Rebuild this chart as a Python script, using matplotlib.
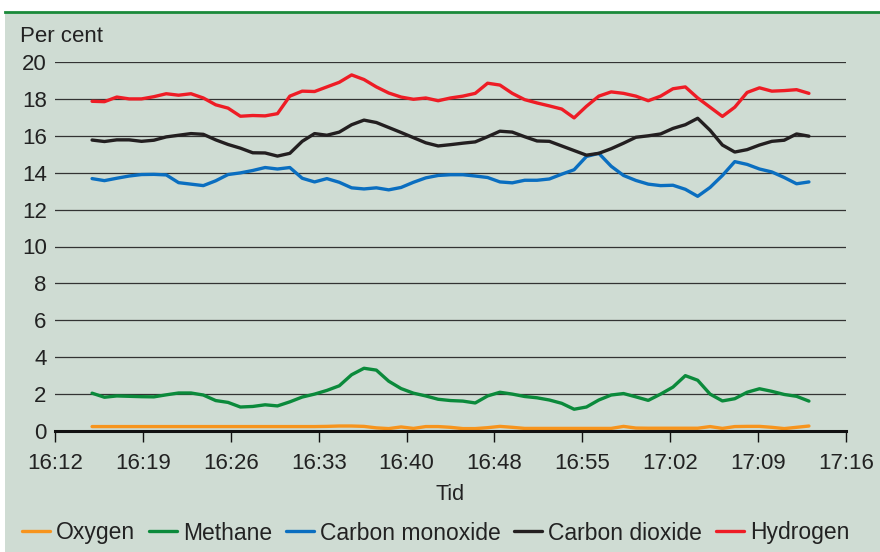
import numpy as np
import matplotlib.pyplot as plt
from matplotlib.patches import Rectangle
from matplotlib.lines import Line2D

plt.rcParams['font.family'] = ['Liberation Sans', 'DejaVu Sans']

# minutes after 16:12, one reading per minute (16:15 - 17:13)
minutes = np.arange(3, 62)

oxygen = [0.24, 0.24, 0.24, 0.24, 0.24, 0.24, 0.24, 0.24, 0.24, 0.24,
          0.24, 0.24, 0.24, 0.24, 0.24, 0.24, 0.24, 0.24, 0.24, 0.25,
          0.27, 0.27, 0.25, 0.17, 0.13, 0.22, 0.14, 0.24, 0.24, 0.20,
          0.13, 0.13, 0.18, 0.25, 0.20, 0.14, 0.14, 0.14, 0.14, 0.14,
          0.14, 0.14, 0.14, 0.25, 0.16, 0.15, 0.15, 0.15, 0.15, 0.15,
          0.24, 0.14, 0.24, 0.25, 0.25, 0.20, 0.13, 0.20, 0.27]

methane = [2.05, 1.83, 1.90, 1.88, 1.86, 1.85, 1.96, 2.06, 2.06, 1.95,
           1.65, 1.55, 1.30, 1.33, 1.42, 1.36, 1.58, 1.84, 2.00, 2.20,
           2.45, 3.05, 3.40, 3.30, 2.70, 2.30, 2.05, 1.90, 1.72, 1.65,
           1.62, 1.52, 1.90, 2.10, 2.00, 1.87, 1.80, 1.68, 1.50, 1.18,
           1.30, 1.68, 1.95, 2.03, 1.85, 1.66, 2.00, 2.38, 3.00, 2.75,
           2.00, 1.63, 1.75, 2.10, 2.29, 2.15, 1.98, 1.88, 1.62]

carbon_monoxide = [13.68, 13.57, 13.70, 13.82, 13.90, 13.91, 13.88, 13.46, 13.38, 13.30,
                   13.56, 13.90, 13.99, 14.12, 14.28, 14.20, 14.28, 13.70, 13.50, 13.68,
                   13.48, 13.18, 13.12, 13.18, 13.07, 13.20, 13.48, 13.72, 13.85, 13.89,
                   13.89, 13.82, 13.74, 13.50, 13.45, 13.59, 13.59, 13.66, 13.92, 14.16,
                   14.88, 15.05, 14.35, 13.85, 13.58, 13.38, 13.30, 13.32, 13.10, 12.72,
                   13.20, 13.85, 14.60, 14.45, 14.20, 14.04, 13.74, 13.40, 13.50]

carbon_dioxide = [15.77, 15.69, 15.78, 15.78, 15.70, 15.76, 15.94, 16.03, 16.12, 16.08,
                  15.78, 15.53, 15.33, 15.08, 15.07, 14.90, 15.05, 15.70, 16.12, 16.03,
                  16.20, 16.60, 16.85, 16.72, 16.45, 16.18, 15.90, 15.62, 15.45, 15.52,
                  15.60, 15.67, 15.95, 16.25, 16.20, 15.95, 15.72, 15.70, 15.45, 15.20,
                  14.95, 15.05, 15.30, 15.60, 15.92, 16.00, 16.10, 16.40, 16.60, 16.95,
                  16.30, 15.50, 15.12, 15.25, 15.50, 15.70, 15.76, 16.10, 15.98]

hydrogen = [17.87, 17.85, 18.10, 18.00, 18.00, 18.12, 18.28, 18.20, 18.28, 18.05,
            17.68, 17.50, 17.06, 17.10, 17.08, 17.20, 18.15, 18.42, 18.40, 18.65,
            18.90, 19.30, 19.05, 18.65, 18.32, 18.10, 17.98, 18.05, 17.90, 18.05,
            18.15, 18.30, 18.85, 18.75, 18.30, 17.96, 17.78, 17.62, 17.45, 16.97,
            17.60, 18.15, 18.38, 18.30, 18.15, 17.90, 18.15, 18.55, 18.65, 18.05,
            17.55, 17.05, 17.55, 18.35, 18.60, 18.42, 18.45, 18.50, 18.30]

tick_labels = ['16:12', '16:19', '16:26', '16:33', '16:40',
               '16:48', '16:55', '17:02', '17:09', '17:16']

series = [('Oxygen', oxygen, '#f7941d'),
          ('Methane', methane, '#0b8a3b'),
          ('Carbon monoxide', carbon_monoxide, '#0a6ec0'),
          ('Carbon dioxide', carbon_dioxide, '#231f20'),
          ('Hydrogen', hydrogen, '#ee1c25')]

bg = '#cfdcd3'
txt = '#222222'

fig = plt.figure(figsize=(8.8, 5.52), dpi=100, facecolor='white')
fig.patches.append(Rectangle((5 / 880, 0), 1, (552 - 12) / 552,
                             transform=fig.transFigure, facecolor=bg,
                             edgecolor='none', zorder=-10))
fig.lines.append(Line2D([5 / 880, 1], [(552 - 11.5) / 552] * 2,
                        transform=fig.transFigure, color='#1a8a3a', lw=2))

ax = fig.add_axes([55 / 880, 121 / 552, 791 / 880, 369 / 552])
ax.set_facecolor('none')

for name, vals, col in series:
    ax.plot(minutes, vals, color=col, lw=2.4, label=name,
            solid_joinstyle='round', solid_capstyle='round')

ax.set_xlim(0, 64)
ax.set_ylim(0, 20)
ax.set_yticks(range(0, 21, 2))
ax.set_xticks(np.linspace(0, 64, 10))
ax.set_xticklabels(tick_labels)
ax.grid(axis='y', color='#333333', lw=0.9)
ax.set_axisbelow(True)

for s in ['top', 'right', 'left']:
    ax.spines[s].set_visible(False)
ax.spines['bottom'].set_linewidth(2.2)
ax.spines['bottom'].set_color('#111111')

ax.tick_params(axis='y', length=0, pad=6, labelsize=16, labelcolor=txt)
ax.tick_params(axis='x', length=8, width=1, color='#111111', pad=8,
               labelsize=16, labelcolor=txt, direction='out')

ax.set_xlabel('Tid', fontsize=15.5, color=txt, labelpad=7)
fig.text(20 / 880, 1 - 36 / 552, 'Per cent', fontsize=16, color=txt,
         ha='left', va='center')

fig.legend(loc='center', bbox_to_anchor=(0.495, 1 - 533 / 552), ncol=5,
           frameon=False, fontsize=16.5, handlelength=1.22,
           handletextpad=0.26, columnspacing=0.6, labelcolor=txt)

fig.savefig('out.png', dpi=100, facecolor=fig.get_facecolor())
